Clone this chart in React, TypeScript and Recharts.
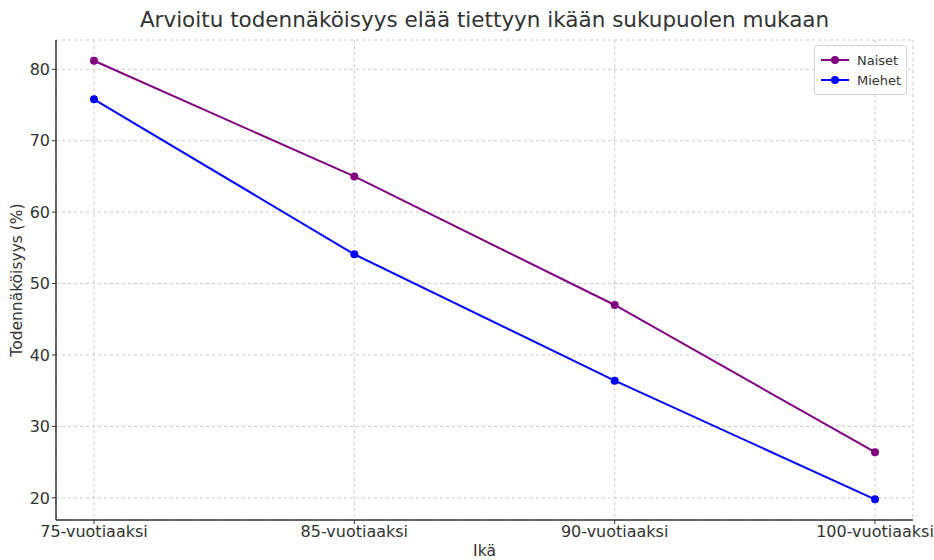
import { LineChart, Line, XAxis, YAxis, CartesianGrid, Legend } from 'recharts';

const ages = ['75-vuotiaaksi', '85-vuotiaaksi', '90-vuotiaaksi', '100-vuotiaaksi'];
const naiset = [81.2, 65.0, 47.0, 26.4];
const miehet = [75.8, 54.1, 36.4, 19.8];
const yTicks = [20, 30, 40, 50, 60, 70, 80];

const data = ages.map((age, i) => ({ age, Naiset: naiset[i], Miehet: miehet[i] }));

const FONT = '"DejaVu Sans", sans-serif';

// legend box in the top right like matplotlib
const LegendBox = () => (
  <div
    style={{
      position: 'absolute',
      left: 814,
      top: 45,
      width: 93,
      height: 50,
      border: '1px solid #d6d6d6',
      borderRadius: 3,
      background: 'rgba(255,255,255,0.85)',
      fontFamily: FONT,
      fontSize: 13,
      color: '#333',
      boxSizing: 'border-box',
      padding: '4px 0 0 6px',
    }}
  >
    {[
      { name: 'Naiset', color: '#800080' },
      { name: 'Miehet', color: '#0000ff' },
    ].map((s) => (
      <div key={s.name} style={{ display: 'flex', alignItems: 'center', height: 20 }}>
        <svg width={28} height={10} style={{ marginRight: 8 }}>
          <line x1={0} y1={5} x2={28} y2={5} stroke={s.color} strokeWidth={2} />
          <circle cx={14} cy={5} r={4} fill={s.color} />
        </svg>
        {s.name}
      </div>
    ))}
  </div>
);

export default function App() {
  return (
    <div style={{ position: 'absolute', left: 0, top: 0, width: 934, height: 560, background: '#fff' }}>
      <div
        style={{
          position: 'absolute',
          left: 56,
          width: 857,
          top: 7,
          textAlign: 'center',
          fontFamily: FONT,
          fontSize: 21.5,
          color: '#333',
        }}
      >
        Arvioitu todennäköisyys elää tiettyyn ikään sukupuolen mukaan
      </div>
      <LineChart width={934} height={560} data={data} margin={{ top: 40, right: 21, bottom: 0, left: 0 }}>
        <CartesianGrid stroke="#cccccc" strokeDasharray="3 3" />
        <XAxis
          dataKey="age"
          type="category"
          padding={{ left: 38, right: 38 }}
          height={40}
          tick={{ fill: '#333', fontSize: 16, fontFamily: FONT }}
          tickLine={{ stroke: '#333' }}
          tickSize={4}
          axisLine={{ stroke: '#333', strokeWidth: 1.5 }}
          label={{ value: 'Ikä', position: 'insideBottom', offset: 4, fill: '#333', fontSize: 15.5, fontFamily: FONT }}
        />
        <YAxis
          type="number"
          domain={[16.9, 84.1]}
          ticks={yTicks}
          width={56}
          tick={{ fill: '#333', fontSize: 16, fontFamily: FONT }}
          tickLine={{ stroke: '#333' }}
          tickSize={4}
          axisLine={{ stroke: '#333', strokeWidth: 1.5 }}
          label={{
            value: 'Todennäköisyys (%)',
            angle: -90,
            position: 'insideLeft',
            offset: 16,
            style: { textAnchor: 'middle', fill: '#333', fontSize: 15.5, fontFamily: FONT },
          }}
        />
        <Legend content={() => null} />
        <Line
          dataKey="Naiset"
          stroke="#800080"
          strokeWidth={2}
          dot={{ r: 4, fill: '#800080', stroke: '#800080', strokeWidth: 0 }}
          activeDot={false}
          isAnimationActive={false}
        />
        <Line
          dataKey="Miehet"
          stroke="#0000ff"
          strokeWidth={2}
          dot={{ r: 4, fill: '#0000ff', stroke: '#0000ff', strokeWidth: 0 }}
          activeDot={false}
          isAnimationActive={false}
        />
      </LineChart>
      <LegendBox />
    </div>
  );
}
